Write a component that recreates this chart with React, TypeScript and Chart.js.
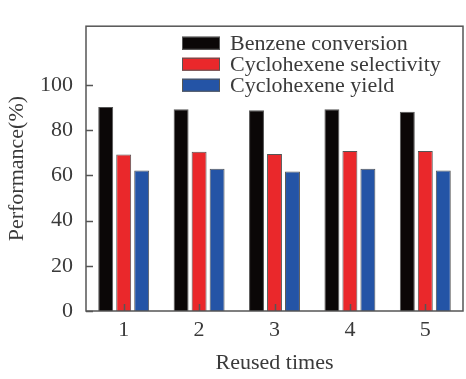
import React, { useEffect, useRef } from "react";
import { Chart, registerables } from "chart.js";

Chart.register(...registerables);

const categories = ["1", "2", "3", "4", "5"];
const seriesNames = ["Benzene conversion", "Cyclohexene selectivity", "Cyclohexene yield"];
const benzeneConversion = [90.3, 89.3, 88.8, 89.3, 88.1];
const cyclohexeneSelectivity = [69.2, 70.4, 69.5, 70.8, 70.8];
const cyclohexeneYield = [62.2, 62.9, 61.7, 62.9, 62.2];
const yTickValues = [0, 20, 40, 60, 80, 100];
const seriesColors = ["#0b0707", "#ea282b", "#2454a6"];

const FONT = "'Liberation Serif', 'DejaVu Serif', serif";
const TEXT = "#3a3a3a";

const framePlugin = {
  id: "frameAndLegend",
  afterDatasetsDraw(chart: any) {
    const { ctx, chartArea } = chart;
    const { left, right, top, bottom } = chartArea;
    const xs = chart.scales.x;
    const ys = chart.scales.y;
    ctx.save();
    ctx.strokeStyle = "#555";
    ctx.lineWidth = 1.5;
    ctx.beginPath();
    yTickValues.forEach((v) => {
      const y = Math.round(ys.getPixelForValue(v)) + 0.5;
      ctx.moveTo(left, y);
      ctx.lineTo(left + 7, y);
    });
    categories.forEach((_, i) => {
      const x = Math.round(xs.getPixelForValue(i)) + 0.5;
      ctx.moveTo(x, bottom);
      ctx.lineTo(x, bottom - 7);
    });
    ctx.stroke();
    ctx.strokeRect(left, top, right - left, bottom - top);

    const bx = left + 96;
    const rowY = [top + 17, top + 38, top + 59];
    chart.data.datasets.forEach((ds: any, i: number) => {
      const cy = rowY[i];
      ctx.fillStyle = ds.backgroundColor;
      ctx.fillRect(bx, cy - 6.5, 38, 13);
      ctx.strokeStyle = "#555";
      ctx.lineWidth = 1;
      ctx.strokeRect(bx + 0.5, cy - 6, 37, 12);
      ctx.fillStyle = TEXT;
      ctx.font = `22px ${FONT}`;
      ctx.textBaseline = "middle";
      ctx.textAlign = "left";
      ctx.fillText(ds.label, bx + 48, cy + 1);
    });
    ctx.restore();
  },
};

export default function App() {
  const ref = useRef<HTMLCanvasElement | null>(null);
  useEffect(() => {
    document.body.style.margin = "0";
    const canvas = ref.current!;
    const values = [benzeneConversion, cyclohexeneSelectivity, cyclohexeneYield];
    const chart = new Chart(canvas, {
      type: "bar",
      data: {
        labels: categories,
        datasets: seriesNames.map((name, i) => ({
          label: name,
          data: values[i],
          backgroundColor: seriesColors[i],
          borderColor: "#555",
          borderWidth: 1,
          categoryPercentage: 0.716,
          barPercentage: 0.83,
        })),
      },
      options: {
        animation: false,
        responsive: false,
        maintainAspectRatio: false,
        layout: { padding: { top: 11, right: 3, left: 0, bottom: 0 } },
        plugins: { legend: { display: false }, tooltip: { enabled: false } },
        scales: {
          x: {
            grid: { display: false, drawTicks: false },
            border: { display: false },
            ticks: { color: TEXT, font: { family: FONT, size: 22 }, padding: 6 },
            title: {
              display: true,
              text: "Reused times",
              color: TEXT,
              font: { family: FONT, size: 22 },
              padding: { top: 4, bottom: 3 },
            },
            afterFit: (s: any) => {
              s.height = 68;
            },
          },
          y: {
            min: 0,
            max: 126,
            grid: { display: false, drawTicks: false },
            border: { display: false },
            afterBuildTicks: (s: any) => {
              s.ticks = yTickValues.map((v) => ({ value: v }));
            },
            ticks: { color: TEXT, font: { family: FONT, size: 22 }, padding: 13 },
            title: {
              display: true,
              text: "Performance(%)",
              color: TEXT,
              font: { family: FONT, size: 22 },
              padding: { top: 4, bottom: 0 },
            },
            afterFit: (s: any) => {
              s.width = 86;
            },
          },
        },
      },
      plugins: [framePlugin],
    });
    return () => chart.destroy();
  }, []);
  return (
    <div style={{ position: "absolute", left: 0, top: 0, width: 466, height: 379, background: "#fff" }}>
      <canvas ref={ref} width={466} height={379} style={{ width: 466, height: 379 }} />
    </div>
  );
}
